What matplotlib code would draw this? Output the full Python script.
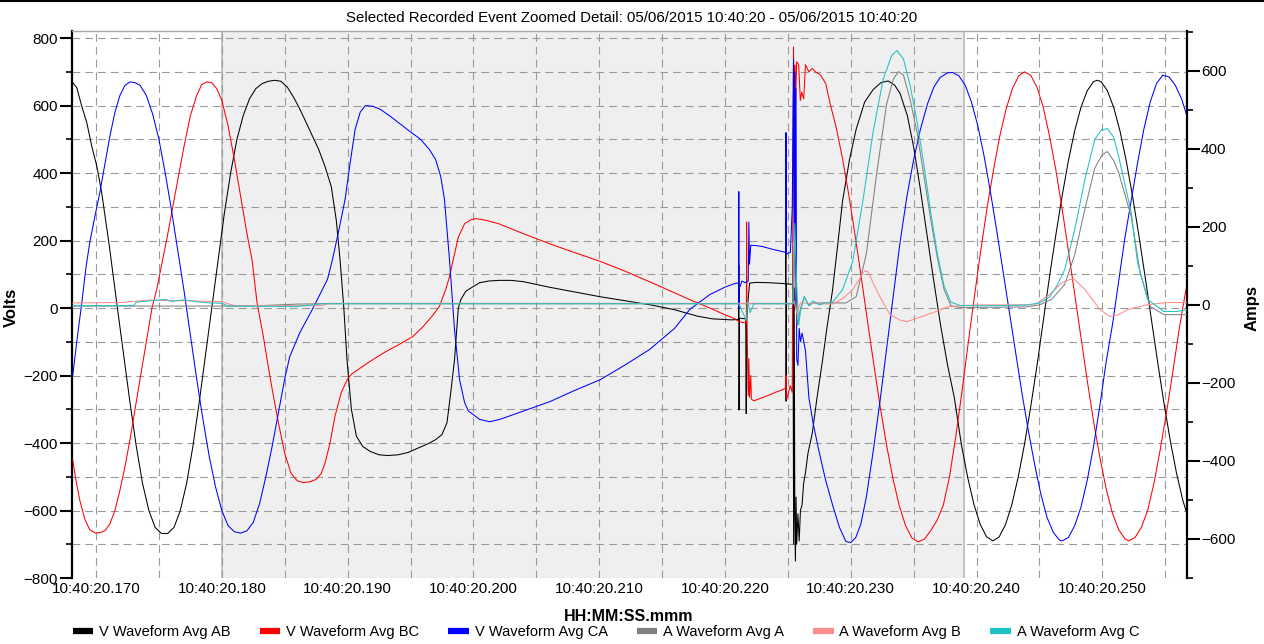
#!/usr/bin/env python3
"""Recorded event detail: phase-to-phase voltages and phase currents around a fault."""

import matplotlib

matplotlib.use("Agg")
import matplotlib.pyplot as plt
from matplotlib.lines import Line2D
from matplotlib.ticker import FuncFormatter, MultipleLocator

plt.rcParams["font.family"] = ["Liberation Sans", "DejaVu Sans"]

TITLE = "Selected Recorded Event Zoomed Detail: 05/06/2015 10:40:20 - 05/06/2015 10:40:20"
TIME_PREFIX = "10:40:20"

# time is in ms after 10:40:20
ab_t = [168.15, 168.47, 168.86, 169.26, 169.66, 170.06, 170.45, 171.06, 171.7, 172.2, 172.7, 173.2, 173.7,
        174.2, 174.7, 175.2, 175.7, 176.2, 176.7, 177.2, 177.7, 178.2, 178.7, 179.2, 179.7, 180.2, 180.7,
        181.2, 181.7, 182.2, 182.7, 183.2, 183.7, 184.2, 184.7, 185.2, 185.7, 186.2, 186.7, 187.2, 187.7,
        188.2, 188.7, 189.1, 189.4, 189.7, 189.95, 190.3, 190.7, 191.2, 191.8, 192.5, 193.2, 194.0, 194.8,
        195.6, 196.4, 197.0, 197.5, 197.9, 198.2, 198.5, 198.8, 199.0, 199.4, 200.0, 200.5, 201.2, 202.0,
        203.0, 204.0, 206.0, 208.0, 210.0, 212.0, 214.0, 216.0, 217.8, 219.0, 220.5, 221.08, 221.1, 221.12,
        221.15, 221.65, 221.69, 221.72, 221.83, 221.96, 222.5, 223.5, 224.5, 224.82, 224.84, 224.86, 224.88,
        225.4, 225.46, 225.5, 225.55, 225.6, 225.65, 225.7, 225.8, 225.9, 226.0, 226.13, 226.25, 226.4,
        226.6, 226.94, 227.3, 227.74, 228.1, 228.55, 229.0, 229.35, 229.9, 230.43, 231.1, 231.77, 232.4,
        232.98, 233.5, 233.92, 234.5, 235.0, 235.5, 236.08, 236.6, 237.15, 237.7, 238.23, 238.8, 239.3,
        239.8, 240.3, 240.8, 241.3, 241.8, 242.3, 242.8, 243.3, 243.8, 244.3, 244.8, 245.3, 245.8, 246.3,
        246.8, 247.3, 247.8, 248.3, 248.8, 249.3, 249.6, 249.9, 250.4, 250.9, 251.4, 251.9, 252.4, 252.9,
        253.4, 253.9, 254.4, 254.9, 255.4, 255.9, 256.4, 256.8]
ab_v = [668, 653, 599, 550, 480, 421, 342, 183, 0, -140, -280, -410, -520,
        -600, -650, -668, -668, -650, -600, -520, -410, -280, -140, 0, 140, 280, 400,
        500, 570, 620, 650, 665, 672, 675, 672, 655, 625, 590, 550, 510, 470,
        420, 360, 260, 143, 0, -153, -300, -380, -410, -425, -435, -437, -435, -428,
        -415, -402, -390, -375, -340, -250, -153, 0, 25, 50, 64, 75, 80, 82,
        82, 78, 62, 48, 34, 22, 10, -5, -24, -32, -35, -34, 127, -302,
        -30, -32, -313, -30, 20, 74, 76, 75, 73, 72, 286, -276, 72,
        70, -700, 60, -600, -750, -560, -700, -610, -690, -600, -583, -520, -488,
        -430, -371, -270, -159, -60, 53, 200, 318, 440, 530, 610, 647, 668,
        673, 660, 636, 570, 477, 360, 212, 80, -53, -170, -265, -406, -503,
        -583, -642, -678, -690, -678, -642, -583, -503, -406, -294, -172, -40, 93, 216,
        332, 436, 525, 595, 644, 671, 675, 671, 644, 595, 525, 436, 332, 216,
        93, -34, -161, -282, -393, -490, -570, -619]

bc_t = [168.15, 168.4, 168.7, 169.1, 169.5, 169.9, 170.3, 170.7, 171.1, 171.5, 171.9, 172.3, 172.7,
        173.1, 173.5, 174.03, 174.45, 174.82, 175.2, 175.62, 176.0, 176.5, 177.0, 177.5, 178.0, 178.4,
        178.8, 179.2, 179.6, 180.0, 180.5, 181.0, 181.5, 182.0, 182.4, 182.8, 183.3, 183.6, 184.0, 184.5,
        185.0, 185.5, 186.0, 186.5, 187.0, 187.5, 187.9, 188.2, 188.6, 189.0, 189.5, 190.0, 190.35, 191.0,
        192.0, 193.0, 194.0, 195.2, 196.0, 196.8, 197.3, 197.8, 198.1, 198.4, 198.8, 199.3, 199.8, 200.2,
        201.0, 202.0, 204.0, 206.1, 208.0, 210.1, 212.0, 214.0, 216.0, 217.2, 218.8, 220.0, 220.8, 221.1,
        221.7, 221.72, 221.75, 221.85, 221.9, 221.95, 222.05, 222.1, 222.3, 223.0, 223.5, 224.0, 224.5,
        224.8, 224.85, 224.9, 225.2, 225.35, 225.4, 225.45, 225.5, 225.55, 225.6, 225.7, 225.86, 225.99,
        226.1, 226.26, 226.4, 226.67, 226.94, 227.2, 227.61, 228.01, 228.35, 228.85, 229.35, 229.85,
        230.35, 230.85, 231.35, 231.85, 232.35, 232.85, 233.35, 233.85, 234.35, 234.85, 235.35, 235.85,
        236.35, 236.85, 237.35, 237.85, 238.35, 238.85, 239.35, 239.85, 240.35, 240.85, 241.35, 241.85,
        242.35, 242.85, 243.35, 243.8, 244.3, 244.8, 245.3, 245.8, 246.3, 246.8, 247.3, 247.8, 248.3,
        248.8, 249.3, 249.8, 250.3, 250.8, 251.3, 251.8, 252.1, 252.6, 253.1, 253.6, 254.1, 254.6, 255.1,
        255.6, 256.1, 256.6, 256.8]
bc_v = [-450, -510, -568, -625, -657, -666, -666, -660, -640, -600, -540, -470, -390,
        -300, -210, -93, 0, 55, 125, 203, 280, 380, 480, 570, 630, 662,
        670, 668, 650, 615, 540, 440, 330, 220, 144, 16, -84, -153, -240, -340,
        -430, -490, -512, -517, -515, -508, -490, -460, -400, -320, -250, -210, -195, -178,
        -153, -130, -110, -84, -55, -20, 5, 55, 93, 144, 210, 250, 262, 265,
        260, 250, 220, 190, 165, 138, 110, 78, 45, 25, 0, -20, -32, -40,
        -45, 255, -45, -260, -150, -265, -200, -270, -275, -265, -258, -250, -243,
        -238, -200, -270, -230, -250, 400, 774, 300, 720, 600, 730, 721, 615,
        640, 620, 721, 700, 710, 700, 690, 665, 607, 534, 442, 334,
        214, 87, -44, -172, -295, -407, -505, -585, -644, -681, -693, -685,
        -660, -630, -585, -500, -380, -245, -100, 40, 175, 300, 410, 510,
        590, 650, 688, 700, 690, 655, 595, 510, 410, 295, 170, 42, -88,
        -215, -335, -442, -535, -608, -657, -684, -690, -680, -650, -600, -520, -420, -310,
        -190, -65, 45, 80]

ca_t = [168.15, 168.5, 168.85, 169.2, 169.5, 169.9, 170.3, 170.7, 171.1, 171.5, 171.9, 172.3, 172.7,
        173.1, 173.5, 174.0, 174.5, 175.0, 175.5, 176.0, 176.5, 177.0, 177.5, 178.0, 178.5, 179.0,
        179.5, 180.0, 180.5, 181.0, 181.5, 182.0, 182.5, 183.0, 183.5, 184.0, 184.5, 185.0, 185.4, 186.2,
        187.2, 188.4, 188.8, 189.3, 189.8, 190.2, 190.6, 191.0, 191.4, 192.0, 192.6, 193.4, 194.2, 195.0,
        195.8, 196.5, 197.0, 197.4, 197.7, 198.1, 198.5, 198.9, 199.3, 199.6, 200.5, 201.3, 202.1, 204.0,
        206.1, 208.0, 210.1, 212.0, 214.0, 216.0, 217.2, 218.8, 220.0, 220.8, 221.08, 221.1, 221.12,
        221.15, 221.35, 221.6, 221.85, 221.9, 221.95, 222.05, 222.5, 223.0, 223.5, 224.0, 224.5, 224.82,
        224.85, 224.88, 225.2, 225.35, 225.45, 225.5, 225.55, 225.6, 225.65, 225.7, 225.8, 225.9, 226.0,
        226.13, 226.4, 226.67, 227.0, 227.47, 228.0, 228.55, 229.1, 229.62, 230.0, 230.4, 230.8, 231.24,
        231.8, 232.31, 232.85, 233.39, 233.9, 234.46, 235.0, 235.54, 236.1, 236.61, 237.1, 237.69, 238.1,
        238.6, 239.1, 239.6, 240.1, 240.6, 241.1, 241.6, 242.1, 242.6, 243.1, 243.6, 244.1, 244.6, 245.1,
        245.6, 246.1, 246.6, 246.8, 247.3, 247.8, 248.3, 248.8, 249.3, 249.8, 250.3, 250.8, 251.3, 251.8,
        252.3, 252.8, 253.3, 253.8, 254.3, 254.8, 255.3, 255.8, 256.3, 256.8]
ca_v = [-200, -90, 10, 120, 194, 270, 342, 425, 509, 580, 630, 660, 670,
        668, 660, 630, 575, 500, 400, 290, 170, 50, -80, -210, -330, -440,
        -530, -600, -645, -663, -667, -660, -635, -580, -500, -410, -310, -210, -144, -73,
        -4, 85, 144, 230, 322, 430, 530, 580, 600, 598, 589, 568, 545, 522,
        500, 470, 440, 390, 322, 143, -64, -212, -280, -305, -330, -337, -330, -305,
        -277, -245, -212, -170, -123, -60, -4, 40, 62, 73, 74, 345, 0,
        60, 80, 75, 80, 255, 130, 186, 185, 182, 177, 172, 168, 165,
        520, 160, 165, 300, 737, 200, 700, 0, 650, -150, -170, -60, -100,
        -74, -127, -265, -340, -424, -510, -583, -650, -692, -695, -680, -640, -560,
        -420, -280, -120, 40, 190, 330, 440, 530, 605, 655, 683, 697, 698,
        688, 660, 610, 540, 450, 345, 230, 110, -10, -130, -250, -360, -460, -550,
        -620, -665, -688, -690, -680, -645, -590, -510, -410, -290, -160, -50, 80, 210,
        320, 430, 530, 610, 665, 690, 685, 660, 620, 560]

ia_t = [168.15, 176.0, 180.0, 183.0, 186.0, 188.0, 225.4, 225.5, 225.6, 225.75, 226.0, 226.3, 226.67,
        227.0, 229.62, 230.43, 231.24, 232.04, 232.85, 233.39, 233.79, 234.19, 234.73, 235.27, 235.81,
        236.34, 236.88, 237.42, 237.96, 238.76, 244.0, 245.0, 246.0, 247.0, 247.8, 248.6, 249.4, 250.0,
        250.4, 250.9, 251.3, 252.3, 253.0, 253.8, 254.9, 256.8]
ia_a = [-3, -3, -3, -2, 2, 3, 3, 150, 48, -52, -10, 21, -2,
        5, 5, 21, 131, 332, 515, 579, 598, 589, 525, 442, 332,
        222, 122, 39, -2, -7, -5, 0, 15, 52, 128, 244, 351, 385,
        393, 370, 339, 226, 83, -4, -25, -25]

ib_t = [168.15, 172.0, 174.0, 178.0, 180.0, 181.0, 188.0, 188.5, 225.4, 225.5, 225.7, 226.0, 228.55,
        229.35, 230.16, 230.7, 231.1, 231.37, 231.77, 232.31, 233.12, 233.92, 234.46, 235.27, 236.08,
        236.88, 237.69, 238.76, 240.0, 244.6, 245.8, 246.8, 247.4, 247.8, 248.6, 249.3, 249.8, 250.6,
        251.3, 252.0, 253.5, 255.1, 256.8]
ib_a = [5, 6, 12, 10, 8, -2, -2, 4, 4, 10, -20, 5, 2,
        16, 39, 67, 87, 85, 57, 21, -25, -39, -43, -34, -25,
        -16, -5, -2, 0, 0, 26, 57, 65, 65, 40, 10, -12, -30,
        -25, -12, 0, 6, 6]

ic_t = [168.15, 173.0, 173.2, 174.5, 175.5, 176.0, 177.0, 178.0, 179.0, 180.0, 180.5, 186.0, 188.0,
        221.1, 221.7, 221.8, 222.0, 222.3, 225.4, 225.55, 225.7, 225.86, 226.0, 226.3, 226.67, 227.0,
        227.5, 228.0, 228.55, 229.35, 230.16, 230.97, 231.77, 232.58, 233.25, 233.66, 234.19, 234.73,
        235.27, 235.81, 236.34, 236.88, 237.42, 237.96, 238.76, 242.0, 244.0, 245.0, 245.8, 246.4, 247.0,
        247.8, 248.6, 249.4, 249.9, 250.4, 250.9, 251.3, 252.3, 252.8, 253.6, 254.9, 255.9, 256.8]
ic_a = [-2, -2, 7, 11, 14, 9, 13, 8, 5, 4, -3, -4, 3,
        3, -40, 10, -20, 3, 3, 209, 48, -52, -16, 21, -2, 10,
        0, 5, 7, 39, 112, 268, 442, 579, 639, 652, 630, 561,
        470, 360, 241, 131, 48, 7, -2, -2, 0, 5, 20, 50, 90,
        192, 320, 424, 448, 452, 430, 380, 236, 108, 14, -17, -17, -12]

volt_series = [
    ("V Waveform Avg AB", ab_t, ab_v, "#000000"),
    ("V Waveform Avg BC", bc_t, bc_v, "#ff0000"),
    ("V Waveform Avg CA", ca_t, ca_v, "#0000ff"),
]
amp_series = [
    ("A Waveform Avg A", ia_t, ia_a, "#808080"),
    ("A Waveform Avg B", ib_t, ib_a, "#ff8c8c"),
    ("A Waveform Avg C", ic_t, ic_a, "#1ec3c3"),
]

event_window = (180.0, 239.0)
x_range = (168.09, 256.73)
volt_range = (-800, 821)
amp_range = (-700, 702)

GRID_STYLE = dict(color="#9a9a9a", linestyle=(0, (7, 4.5)), linewidth=0.8)


def _time_label(value, _pos):
    return f"{TIME_PREFIX}.{int(round(value)):03d}"


def main():
    fig = plt.figure(figsize=(12.64, 6.44), dpi=100)
    ax = fig.add_axes([72 / 1264, 1 - 578 / 644, 1115 / 1264, 547 / 644])
    ax2 = ax.twinx()

    ax.axvspan(*event_window, color="#efefef", zorder=0, lw=0)
    for edge in event_window:
        ax.axvline(edge, color="#c4c4c4", lw=1.5, zorder=0.5)

    lines = []
    for label, t, v, color in volt_series:
        lines += ax.plot(t, v, color=color, lw=0.75, label=label, zorder=3)
    for label, t, a, color in amp_series:
        lines += ax2.plot(t, a, color=color, lw=0.75, label=label, zorder=3)

    ax.set_xlim(*x_range)
    ax.set_ylim(*volt_range)
    ax2.set_ylim(*amp_range)

    ax.xaxis.set_major_locator(MultipleLocator(10))
    ax.xaxis.set_minor_locator(MultipleLocator(5))
    ax.xaxis.set_major_formatter(FuncFormatter(_time_label))
    ax.yaxis.set_major_locator(MultipleLocator(200))
    ax.yaxis.set_minor_locator(MultipleLocator(100))
    ax2.yaxis.set_major_locator(MultipleLocator(200))
    ax2.yaxis.set_minor_locator(MultipleLocator(100))

    ax.grid(True, which="both", axis="both", **GRID_STYLE)
    ax.set_axisbelow(True)

    ax.tick_params(axis="x", which="both", length=0, labelsize=11, pad=3)
    for a in (ax, ax2):
        a.tick_params(axis="y", which="major", length=9, width=1.5, labelsize=11, pad=1, direction="out")
        a.tick_params(axis="y", which="minor", length=4.5, width=1.2, direction="out")

    for name in ("bottom", "right"):
        ax.spines[name].set_visible(False)
    ax.spines["top"].set_color("#a8a8a8")
    ax.spines["top"].set_linewidth(1.0)
    ax.spines["left"].set_linewidth(1.6)
    for name in ("bottom", "left", "top"):
        ax2.spines[name].set_visible(False)
    ax2.spines["right"].set_linewidth(1.6)

    ax.set_ylabel("Volts", fontsize=12, fontweight="bold")
    ax.yaxis.set_label_coords(-0.048, 0.494)
    ax2.set_ylabel("Amps", fontsize=12, fontweight="bold")
    ax2.yaxis.set_label_coords(1.052, 0.494)
    ax.set_xlabel("HH:MM:SS.mmm", fontsize=11.5, fontweight="bold")
    ax.xaxis.set_label_coords(0.4996, -0.057)

    fig.text(0.5, 1 - 18 / 644, TITLE, ha="center", va="center", fontsize=10.8)
    fig.add_artist(Line2D([0, 1], [0.999, 0.999], color="black", lw=1.5, transform=fig.transFigure))

    legend = fig.legend(
        handles=lines,
        labels=[h.get_label() for h in lines],
        loc="center",
        bbox_to_anchor=(606 / 1264, 1 - 632 / 644),
        ncol=6,
        frameon=False,
        fontsize=10.5,
        handlelength=1.4,
        handletextpad=0.4,
        columnspacing=2.0,
    )
    for line in legend.get_lines():
        line.set_linewidth(4.5)
        line.set_solid_capstyle("butt")

    fig.savefig("out.png", dpi=100)
    plt.close(fig)


if __name__ == "__main__":
    main()
